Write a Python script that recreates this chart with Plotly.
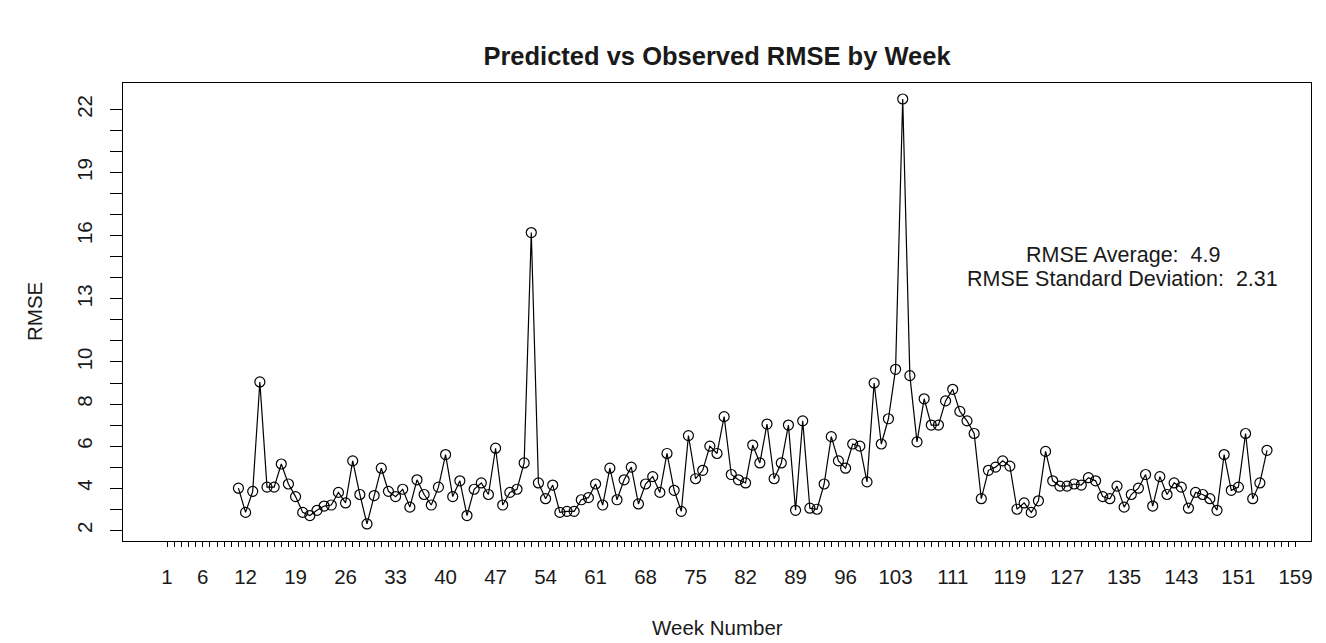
import plotly.graph_objects as go

weeks = list(range(11, 156))
rmse = [
    4.0, 2.85, 3.85, 9.05, 4.05, 4.05, 5.15, 4.2, 3.6, 2.85,          # 11-20
    2.7, 2.95, 3.15, 3.2, 3.8, 3.3, 5.3, 3.7, 2.3, 3.65,              # 21-30
    4.95, 3.85, 3.6, 3.95, 3.1, 4.4, 3.7, 3.2, 4.05, 5.6,             # 31-40
    3.6, 4.35, 2.7, 3.95, 4.25, 3.7, 5.9, 3.2, 3.8, 3.95,             # 41-50
    5.2, 16.15, 4.25, 3.5, 4.15, 2.85, 2.9, 2.9, 3.45, 3.55,          # 51-60
    4.2, 3.2, 4.95, 3.45, 4.4, 5.0, 3.25, 4.2, 4.55, 3.8,             # 61-70
    5.65, 3.9, 2.9, 6.5, 4.45, 4.85, 6.0, 5.65, 7.4, 4.65,            # 71-80
    4.4, 4.25, 6.05, 5.2, 7.05, 4.45, 5.2, 7.0, 2.95, 7.2,            # 81-90
    3.05, 3.0, 4.2, 6.45, 5.3, 4.95, 6.1, 6.0, 4.3, 9.0,              # 91-100
    6.1, 7.3, 9.65, 22.5, 9.35, 6.2, 8.25, 7.0, 7.0, 8.15,            # 101-110
    8.7, 7.65, 7.2, 6.6, 3.5, 4.85, 5.0, 5.3, 5.05, 3.0,              # 111-120
    3.3, 2.85, 3.4, 5.75, 4.35, 4.1, 4.1, 4.2, 4.15, 4.5,             # 121-130
    4.35, 3.6, 3.5, 4.1, 3.1, 3.7, 4.0, 4.65, 3.15, 4.55,             # 131-140
    3.7, 4.25, 4.05, 3.05, 3.8, 3.7, 3.5, 2.95, 5.6, 3.9,             # 141-150
    4.05, 6.6, 3.5, 4.25, 5.8,                                        # 151-155
]

x_ticks = list(range(1, 160))
x_labeled = [1, 6, 12, 19, 26, 33, 40, 47, 54, 61, 68, 75, 82, 89, 96,
             103, 111, 119, 127, 135, 143, 151, 159]
y_ticks = list(range(2, 23))
y_labeled = [2, 4, 6, 8, 10, 13, 16, 19, 22]

title_text = "Predicted vs Observed RMSE by Week"
x_title = "Week Number"
y_title = "RMSE"
stat_lines = ["RMSE Average:\u00a0 4.9", "RMSE Standard Deviation:\u00a0 2.31"]

FONT = "Liberation Sans, Arial, sans-serif"
INK = "#1a1a1a"
BASE = 20.5

fig = go.Figure()
fig.add_trace(go.Scatter(
    x=weeks, y=rmse, mode="lines+markers",
    line=dict(color="black", width=1.2),
    marker=dict(symbol="circle-open", size=10, color="black",
                line=dict(width=1.2, color="black")),
    showlegend=False,
))

fig.update_layout(
    width=1326, height=643,
    margin=dict(l=115, r=23, t=75, b=110),
    paper_bgcolor="white", plot_bgcolor="white",
    font=dict(family=FONT, color=INK, size=BASE),
    title=dict(text="<b>" + title_text + "</b>", x=0.5, xref="paper",
               y=1 - 48 / 643, yref="container", xanchor="center",
               yanchor="middle", font=dict(size=25.5, color=INK, family=FONT)),
    xaxis=dict(
        range=[-5.16, 161.16], tickmode="array", tickvals=x_ticks,
        ticktext=[str(v) if v in x_labeled else "" for v in x_ticks],
        ticks="outside", ticklen=5, tickwidth=1, tickcolor="black",
        ticklabelstandoff=12,
        showline=True, linecolor="black", linewidth=1, mirror=True,
        showgrid=False, zeroline=False, tickangle=0,
        tickfont=dict(size=BASE, family=FONT, color=INK),
    ),
    yaxis=dict(
        range=[1.49, 23.26], tickmode="array", tickvals=y_ticks,
        ticktext=[str(v) if v in y_labeled else "" for v in y_ticks],
        ticks="outside", ticklen=12, tickwidth=1, tickcolor="black",
        ticklabelstandoff=10,
        showline=True, linecolor="black", linewidth=1, mirror=True,
        showgrid=False, zeroline=False, tickangle=-90,
        tickfont=dict(size=BASE, family=FONT, color=INK),
    ),
)

fig.add_annotation(text=x_title, xref="paper", yref="paper", x=0.5,
                   y=(533 - 619) / 458, xanchor="center", yanchor="middle",
                   showarrow=False, font=dict(size=BASE, family=FONT, color=INK))
fig.add_annotation(text=y_title, xref="paper", yref="paper",
                   x=(26 - 115) / 1188, y=0.5, xanchor="center",
                   yanchor="middle", textangle=-90, showarrow=False,
                   font=dict(size=BASE, family=FONT, color=INK))
fig.add_annotation(text=stat_lines[0], xref="x", yref="y", x=134.8, y=15.1,
                   xanchor="center", yanchor="middle", showarrow=False,
                   font=dict(size=21.5, family=FONT, color=INK))
fig.add_annotation(text=stat_lines[1], xref="x", yref="y", x=134.8, y=13.95,
                   xanchor="center", yanchor="middle", showarrow=False,
                   font=dict(size=21.5, family=FONT, color=INK))

fig.write_html("out.html")
